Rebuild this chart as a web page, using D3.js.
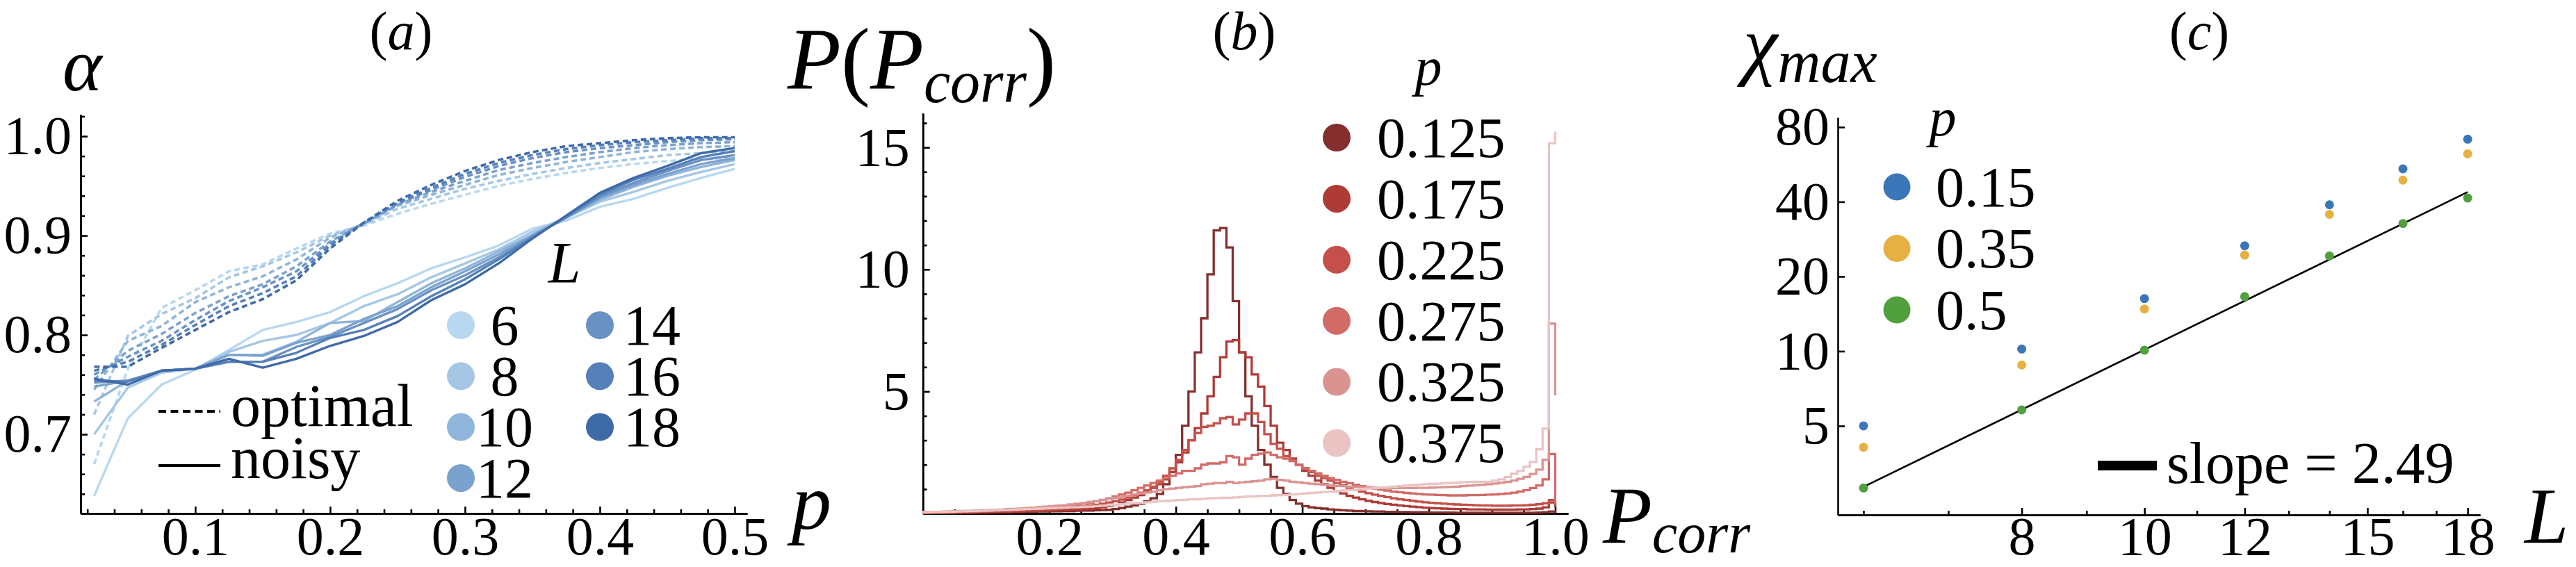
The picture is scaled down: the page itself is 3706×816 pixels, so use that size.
<!DOCTYPE html>
<html lang="en">
<head>
<meta charset="UTF-8">
<title>alpha, P(Pcorr), chi max</title>
<script src="https://cdn.jsdelivr.net/npm/d3@7/dist/d3.min.js"></script>
<style>
  body { margin: 0; background: #fff; }
  .axis .domain, .axis line { stroke: #000; stroke-width: 2.6; }
</style>
</head>
<body>
<script>
// ---------- panel (a): alpha vs p ----------
const pValues = [0.025, 0.05, 0.075, 0.1, 0.125, 0.15, 0.175, 0.2, 0.225, 0.25,
                 0.275, 0.3, 0.325, 0.35, 0.375, 0.4, 0.425, 0.45, 0.475, 0.5];
const sizesL = [6, 8, 10, 12, 14, 16, 18];
const colorsL = ["#b8d8f0", "#a5c7e5", "#90b5da", "#7ba2cf", "#6991c4", "#5580b9", "#3f6aa8"];

const optimal6  = [0.670, 0.766, 0.827, 0.845, 0.864, 0.871, 0.887, 0.902, 0.910, 0.922, 0.932, 0.941, 0.950, 0.957, 0.963, 0.968, 0.972, 0.975, 0.977, 0.978];
const optimal8  = [0.720, 0.799, 0.821, 0.837, 0.858, 0.869, 0.883, 0.900, 0.911, 0.927, 0.937, 0.947, 0.955, 0.962, 0.968, 0.973, 0.977, 0.981, 0.983, 0.985];
const optimal10 = [0.745, 0.794, 0.809, 0.833, 0.848, 0.859, 0.876, 0.898, 0.912, 0.930, 0.941, 0.951, 0.961, 0.968, 0.974, 0.979, 0.984, 0.987, 0.989, 0.990];
const optimal12 = [0.755, 0.784, 0.801, 0.822, 0.839, 0.851, 0.869, 0.894, 0.912, 0.931, 0.944, 0.955, 0.966, 0.973, 0.979, 0.984, 0.988, 0.991, 0.993, 0.994];
const optimal14 = [0.760, 0.778, 0.794, 0.815, 0.834, 0.848, 0.864, 0.892, 0.913, 0.932, 0.946, 0.959, 0.970, 0.978, 0.984, 0.988, 0.991, 0.994, 0.996, 0.997];
const optimal16 = [0.764, 0.773, 0.790, 0.810, 0.829, 0.842, 0.859, 0.890, 0.913, 0.933, 0.948, 0.962, 0.973, 0.981, 0.987, 0.991, 0.994, 0.996, 0.998, 0.998];
const optimal18 = [0.768, 0.768, 0.787, 0.805, 0.823, 0.836, 0.855, 0.887, 0.913, 0.935, 0.951, 0.965, 0.976, 0.984, 0.990, 0.993, 0.996, 0.998, 0.999, 0.999];

const noisy6  = [0.638, 0.716, 0.750, 0.765, 0.785, 0.805, 0.813, 0.823, 0.839, 0.852, 0.867, 0.878, 0.890, 0.907, 0.915, 0.929, 0.937, 0.948, 0.958, 0.967];
const noisy8  = [0.700, 0.747, 0.762, 0.766, 0.783, 0.794, 0.800, 0.812, 0.829, 0.841, 0.858, 0.872, 0.886, 0.904, 0.918, 0.934, 0.944, 0.955, 0.964, 0.972];
const noisy10 = [0.733, 0.754, 0.764, 0.766, 0.780, 0.780, 0.793, 0.812, 0.814, 0.833, 0.852, 0.867, 0.884, 0.901, 0.918, 0.936, 0.949, 0.960, 0.969, 0.976];
const noisy12 = [0.748, 0.754, 0.764, 0.766, 0.780, 0.779, 0.792, 0.800, 0.816, 0.829, 0.848, 0.864, 0.881, 0.900, 0.918, 0.938, 0.951, 0.962, 0.972, 0.978];
const noisy14 = [0.752, 0.754, 0.764, 0.766, 0.773, 0.773, 0.788, 0.798, 0.812, 0.826, 0.845, 0.860, 0.878, 0.899, 0.918, 0.939, 0.953, 0.965, 0.976, 0.981];
const noisy16 = [0.754, 0.753, 0.764, 0.766, 0.773, 0.773, 0.782, 0.797, 0.805, 0.819, 0.839, 0.856, 0.876, 0.898, 0.919, 0.941, 0.956, 0.967, 0.979, 0.985];
const noisy18 = [0.756, 0.750, 0.764, 0.766, 0.776, 0.767, 0.776, 0.789, 0.799, 0.813, 0.835, 0.851, 0.872, 0.897, 0.920, 0.943, 0.958, 0.970, 0.983, 0.988];

// ---------- panel (b): histograms of P_corr, bins of width 0.01 (last bin starts at 1.0) ----------
const binWidth = 0.01;
const pNoise = ["0.125", "0.175", "0.225", "0.275", "0.325", "0.375"];
const colorsP = ["#842f2d", "#ae3b36", "#c54f4a", "#d16b67", "#db9391", "#eac4c3"];

const hist0125 = [0.02,0.02,0.02,0.02,0.03,0.03,0.03,0.03,0.04,0.04, 0.04,0.05,0.05,0.05,0.06,0.06,0.07,0.07,0.08,0.08,
  0.09,0.09,0.1,0.1,0.11,0.12,0.12,0.13,0.14,0.15, 0.18,0.22,0.28,0.33,0.4,0.5,0.62,0.8,1.2,1.7,
  2.4,3.6,5.0,6.6,8.0,9.8,11.6,11.7,10.9,8.7, 6.6,4.8,3.6,2.6,2.0,1.5,1.05,0.8,0.55,0.4,
  0.3,0.25,0.22,0.2,0.17,0.15,0.13,0.12,0.1,0.1, 0.09,0.08,0.08,0.07,0.07,0.06,0.06,0.05,0.05,0.05,
  0.04,0.04,0.04,0.04,0.03,0.03,0.03,0.03,0.03,0.03, 0.03,0.03,0.03,0.03,0.03,0.03,0.03,0.04,0.05,0.08, 0.06];
const hist0175 = [0.02,0.02,0.03,0.03,0.03,0.04,0.04,0.04,0.05,0.05, 0.05,0.06,0.06,0.07,0.07,0.08,0.09,0.09,0.1,0.11,
  0.12,0.13,0.14,0.15,0.17,0.18,0.2,0.22,0.25,0.3, 0.35,0.45,0.55,0.65,0.75,0.9,1.05,1.2,1.4,1.7,
  2.1,2.5,3.0,3.5,4.1,4.8,5.6,6.4,7.05,7.1, 6.6,6.4,5.7,5.2,4.4,3.6,2.9,2.6,2.25,2.0,
  1.75,1.55,1.35,1.2,1.05,0.92,0.82,0.72,0.65,0.58, 0.52,0.47,0.43,0.39,0.36,0.33,0.3,0.28,0.26,0.24,
  0.22,0.21,0.2,0.19,0.18,0.18,0.17,0.17,0.17,0.16, 0.16,0.16,0.16,0.16,0.17,0.17,0.18,0.2,0.25,0.45, 0.3];
const hist0225 = [0.03,0.03,0.04,0.04,0.05,0.05,0.06,0.06,0.07,0.07, 0.08,0.09,0.1,0.1,0.11,0.12,0.13,0.14,0.15,0.17,
  0.18,0.2,0.22,0.24,0.26,0.29,0.32,0.36,0.4,0.45, 0.5,0.57,0.65,0.75,0.85,0.95,1.1,1.3,1.55,1.85,
  2.2,2.6,3.0,3.3,3.55,3.6,3.7,3.9,3.95,3.65, 3.85,4.1,4.1,3.75,3.25,2.85,2.65,2.35,2.2,2.0,
  1.85,1.7,1.55,1.45,1.35,1.25,1.15,1.05,0.97,0.9, 0.83,0.77,0.72,0.67,0.62,0.58,0.55,0.52,0.49,0.46,
  0.44,0.42,0.4,0.38,0.37,0.36,0.35,0.34,0.33,0.33, 0.32,0.32,0.32,0.33,0.33,0.34,0.36,0.38,0.42,0.55, 0.4];
const hist0275 = [0.05,0.05,0.06,0.06,0.07,0.07,0.08,0.09,0.1,0.1, 0.11,0.12,0.13,0.14,0.15,0.17,0.18,0.2,0.22,0.24,
  0.26,0.28,0.3,0.33,0.36,0.4,0.44,0.5,0.56,0.62, 0.7,0.78,0.85,0.95,1.05,1.15,1.25,1.35,1.45,1.55,
  1.65,1.75,1.75,1.85,2.0,2.05,2.05,2.1,2.35,2.3, 2.0,2.25,2.4,2.45,2.5,2.4,2.3,2.25,2.15,2.0,
  1.85,1.75,1.65,1.55,1.45,1.38,1.3,1.24,1.18,1.12, 1.07,1.02,0.98,0.94,0.9,0.87,0.84,0.82,0.8,0.78,
  0.77,0.76,0.75,0.74,0.74,0.74,0.75,0.75,0.76,0.77, 0.78,0.8,0.82,0.85,0.9,0.96,1.04,1.15,1.4,2.44, 0.45];
const hist0325 = [0.06,0.07,0.07,0.08,0.09,0.1,0.1,0.11,0.12,0.13, 0.14,0.15,0.16,0.18,0.19,0.2,0.22,0.24,0.26,0.28,
  0.3,0.32,0.34,0.37,0.4,0.43,0.47,0.5,0.55,0.6, 0.64,0.68,0.73,0.78,0.82,0.86,0.9,0.95,1.0,1.02,
  1.05,1.08,1.1,1.12,1.2,1.22,1.25,1.24,1.3,1.25, 1.28,1.3,1.32,1.35,1.4,1.42,1.38,1.35,1.3,1.28,
  1.25,1.22,1.2,1.18,1.15,1.13,1.12,1.1,1.1,1.08, 1.07,1.06,1.05,1.05,1.04,1.04,1.04,1.04,1.05,1.05,
  1.06,1.07,1.08,1.09,1.1,1.12,1.14,1.16,1.18,1.2, 1.23,1.26,1.3,1.35,1.42,1.5,1.62,1.8,2.2,7.78, 4.89];
const hist0375 = [0.05,0.06,0.06,0.07,0.07,0.08,0.09,0.1,0.1,0.11, 0.12,0.13,0.14,0.15,0.16,0.17,0.18,0.19,0.2,0.21,
  0.22,0.23,0.24,0.25,0.26,0.27,0.28,0.3,0.32,0.34, 0.36,0.38,0.4,0.42,0.44,0.46,0.48,0.5,0.52,0.53,
  0.55,0.56,0.58,0.58,0.6,0.62,0.63,0.64,0.64,0.66, 0.68,0.7,0.7,0.72,0.72,0.74,0.75,0.76,0.78,0.8,
  0.82,0.84,0.86,0.88,0.9,0.92,0.94,0.96,0.98,1.0, 1.02,1.04,1.06,1.08,1.1,1.12,1.14,1.16,1.18,1.2,
  1.21,1.22,1.24,1.25,1.26,1.28,1.29,1.3,1.3,1.3, 1.35,1.4,1.49,1.63,1.74,1.92,2.11,2.63,3.48,15.17, 15.6];

// ---------- panel (c): chi_max vs L ----------
const sizesC = [6, 8, 10, 12, 14, 16, 18];
const chiP015 = [5.0, 10.2, 16.3, 26.6, 38.9, 54.3, 71.5];
const chiP035 = [4.1, 8.8, 14.8, 24.4, 35.6, 48.9, 62.4];
const chiP05  = [2.81, 5.8, 10.1, 16.6, 24.2, 32.7, 41.4];
const pLabelsC = ["0.15", "0.35", "0.5"];
const colorsC = ["#3b77b8", "#e6b043", "#52a03d"];
const fitSlope = 2.49, fitAmp = 0.0328, fitRange = [6, 18];

// ====================================================================
// pick the first serif face that is really installed
function pickFont(cands) {
    const ctx = document.createElement("canvas").getContext("2d");
    const s = "mmmmmwwwiill0.125 optimal noisy";
    for (const f of cands) {
        for (const base of ["monospace", "sans-serif"]) {
            ctx.font = "72px " + base;
            const w0 = ctx.measureText(s).width;
            ctx.font = '72px "' + f + '", ' + base;
            const w1 = ctx.measureText(s).width;
            if (Math.abs(w1 - w0) > 0.5) return '"' + f + '", serif';
        }
    }
    return "serif";
}
const FONT = pickFont(["Liberation Serif", "Tinos", "Times New Roman", "Times", "Nimbus Roman",
                       "Nimbus Roman No9 L", "FreeSerif", "DejaVu Serif", "Noto Serif", "Georgia"]);

const svg = d3.select("body").append("svg")
    .attr("width", 3706).attr("height", 816)
    .attr("font-family", FONT)
    .style("font-family", FONT)
    .style("background", "#fff");

function styleAxis(g) {
    g.attr("class", "axis").attr("font-size", 78).attr("font-family", FONT);
    g.selectAll(".tick text").attr("fill", "#000").style("font-family", FONT);
}

// ---------------- panel (a) ----------------
const xA = d3.scaleLinear().domain([0.015, 0.5093]).range([116, 1075]);
const yA = d3.scaleLinear().domain([0.6203, 1.0217]).range([739, 165]);

const xAminor = d3.range(1, 26).map(i => i * 0.02).filter(v => Math.abs(v * 10 - Math.round(v * 10)) > 1e-6);
svg.append("g").attr("transform", "translate(0,739)")
    .call(d3.axisBottom(xA).tickValues(xAminor).tickSizeInner(-6).tickSizeOuter(0).tickFormat(""))
    .call(styleAxis);
svg.append("g").attr("transform", "translate(0,739)")
    .call(d3.axisBottom(xA).tickValues([0.1, 0.2, 0.3, 0.4, 0.5]).tickSizeInner(-10).tickSizeOuter(0)
        .tickPadding(9).tickFormat(d3.format(".1f")))
    .call(styleAxis);
const yAminor = d3.range(32, 52).map(i => i * 0.02).filter(v => Math.abs(v * 10 - Math.round(v * 10)) > 1e-6);
svg.append("g").attr("transform", "translate(116,0)")
    .call(d3.axisLeft(yA).tickValues(yAminor).tickSizeInner(-6).tickSizeOuter(0).tickFormat(""))
    .call(styleAxis);
svg.append("g").attr("transform", "translate(116,0)")
    .call(d3.axisLeft(yA).tickValues([0.7, 0.8, 0.9, 1.0]).tickSizeInner(-10).tickSizeOuter(0)
        .tickPadding(13).tickFormat(d3.format(".1f")))
    .call(styleAxis);

const optimalAll = [optimal6, optimal8, optimal10, optimal12, optimal14, optimal16, optimal18];
const noisyAll = [noisy6, noisy8, noisy10, noisy12, noisy14, noisy16, noisy18];
const lineA = d3.line().x((d, i) => xA(pValues[i])).y(d => yA(d));

const gA = svg.append("g");
optimalAll.forEach((vals, i) => {
    gA.append("path").datum(vals).attr("d", lineA)
        .attr("fill", "none").attr("stroke", colorsL[i]).attr("stroke-width", 3.6)
        .attr("stroke-dasharray", "8,5");
});
noisyAll.forEach((vals, i) => {
    gA.append("path").datum(vals).attr("d", lineA)
        .attr("fill", "none").attr("stroke", colorsL[i]).attr("stroke-width", 3.4)
        .attr("stroke-linejoin", "round");
});

// labels (a)
svg.append("text").attr("x", 577).attr("y", 70).attr("text-anchor", "middle").attr("font-size", 78)
    .html('(<tspan font-style="italic">a</tspan>)');
svg.append("text").attr("x", 90).attr("y", 130).attr("font-size", 108).attr("font-style", "italic").text("\u03b1");
svg.append("text").attr("x", 1139).attr("y", 761).attr("font-size", 114).attr("font-style", "italic").text("p");

// legend (a): line styles
const legA = svg.append("g");
legA.append("line").attr("x1", 228).attr("x2", 317).attr("y1", 592).attr("y2", 592)
    .attr("stroke", "#000").attr("stroke-width", 4).attr("stroke-dasharray", "11,6.5");
legA.append("line").attr("x1", 228).attr("x2", 317).attr("y1", 670).attr("y2", 670)
    .attr("stroke", "#000").attr("stroke-width", 4);
legA.append("text").attr("x", 332).attr("y", 613).attr("font-size", 86).text("optimal");
legA.append("text").attr("x", 332).attr("y", 688).attr("font-size", 86).text("noisy");

// legend (a): sizes L
legA.append("text").attr("x", 812).attr("y", 407).attr("text-anchor", "middle")
    .attr("font-size", 84).attr("font-style", "italic").text("L");
sizesL.forEach((L, i) => {
    const col = i < 4 ? 0 : 1, row = i < 4 ? i : i - 4;
    const cx = col === 0 ? 663 : 863, cy = 468 + row * 73.3;
    legA.append("circle").attr("cx", cx).attr("cy", cy).attr("r", 20).attr("fill", colorsL[i]);
    legA.append("text").attr("x", col === 0 ? 726 : 938).attr("y", cy).attr("dy", "0.34em")
        .attr("text-anchor", "middle").attr("font-size", 82).text(L);
});

// ---------------- panel (b) ----------------
const xB = d3.scaleLinear().domain([0, 1.0204]).range([1327.7, 2256]);
const yB = d3.scaleLinear().domain([0, 16.4]).range([739, 163]);

const xBminor = d3.range(1, 21).map(i => i * 0.05).filter(v => Math.abs(v * 5 - Math.round(v * 5)) > 1e-6);
svg.append("g").attr("transform", "translate(0,739)")
    .call(d3.axisBottom(xB).tickValues(xBminor).tickSizeInner(-6).tickSizeOuter(0).tickFormat(""))
    .call(styleAxis);
svg.append("g").attr("transform", "translate(0,739)")
    .call(d3.axisBottom(xB).tickValues([0.2, 0.4, 0.6, 0.8, 1.0]).tickSizeInner(-10).tickSizeOuter(0)
        .tickPadding(9).tickFormat(d3.format(".1f")))
    .call(styleAxis);
const yBminor = d3.range(1, 17).filter(v => v % 5 !== 0);
svg.append("g").attr("transform", "translate(1327.7,0)")
    .call(d3.axisLeft(yB).tickValues(yBminor).tickSizeInner(-6).tickSizeOuter(0).tickFormat(""))
    .call(styleAxis);
svg.append("g").attr("transform", "translate(1327.7,0)")
    .call(d3.axisLeft(yB).tickValues([5, 10, 15]).tickSizeInner(-10).tickSizeOuter(0)
        .tickPadding(19).tickFormat(d3.format("d")))
    .call(styleAxis);

svg.append("clipPath").attr("id", "clipB").append("rect")
    .attr("x", 1320).attr("y", 150).attr("width", xB(1.0) + 1.7 - 1320).attr("height", 592);

const histAll = [hist0125, hist0175, hist0225, hist0275, hist0325, hist0375];
function stepPath(h) {
    let d = "M" + xB(0) + "," + yB(0);
    h.forEach((v, k) => {
        d += "V" + yB(v) + "H" + xB((k + 1) * binWidth);
    });
    d += "V" + yB(0);
    return d;
}
const gB = svg.append("g").attr("clip-path", "url(#clipB)");
histAll.forEach((h, i) => {
    gB.append("path").attr("d", stepPath(h)).attr("fill", "none")
        .attr("stroke", colorsP[i]).attr("stroke-width", 3.3).attr("stroke-linejoin", "miter");
});

// labels (b)
svg.append("text").attr("x", 1790).attr("y", 70).attr("text-anchor", "middle").attr("font-size", 78)
    .html('(<tspan font-style="italic">b</tspan>)');
svg.append("text").attr("x", 1133).attr("y", 128).attr("font-size", 126)
    .html('<tspan font-style="italic">P</tspan>(<tspan font-style="italic">P</tspan>' +
          '<tspan font-style="italic" font-size="86" dy="19">corr</tspan><tspan dy="-19">)</tspan>');
svg.append("text").attr("x", 2306).attr("y", 781).attr("font-size", 116)
    .html('<tspan font-style="italic">P</tspan><tspan font-style="italic" font-size="82" dy="14">corr</tspan>');

const legB = svg.append("g");
legB.append("text").attr("x", 2055).attr("y", 122).attr("text-anchor", "middle")
    .attr("font-size", 78).attr("font-style", "italic").text("p");
pNoise.forEach((lab, i) => {
    const cy = 198 + i * 87.9;
    legB.append("circle").attr("cx", 1923).attr("cy", cy).attr("r", 20).attr("fill", colorsP[i]);
    legB.append("text").attr("x", 1981).attr("y", cy).attr("dy", "0.34em").attr("font-size", 82).text(lab);
});

// ---------------- panel (c) ----------------
const xC = d3.scaleLog().domain([5.726, 18.41]).range([2644, 3568]);
const yC = d3.scaleLog().domain([2.19, 87.5]).range([741, 169]);

const xCminor = d3.range(6, 19).filter(v => [8, 10, 12, 15, 18].indexOf(v) < 0);
svg.append("g").attr("transform", "translate(0,741)")
    .call(d3.axisBottom(xC).tickValues(xCminor).tickSizeInner(-6).tickSizeOuter(0).tickFormat(""))
    .call(styleAxis);
svg.append("g").attr("transform", "translate(0,741)")
    .call(d3.axisBottom(xC).tickValues([8, 10, 12, 15, 18]).tickSizeInner(-10).tickSizeOuter(0)
        .tickPadding(7).tickFormat(d3.format("d")))
    .call(styleAxis);
svg.append("g").attr("transform", "translate(2644,0)")
    .call(d3.axisLeft(yC).tickValues([5, 10, 20, 40, 80]).tickSizeInner(-10).tickSizeOuter(0)
        .tickPadding(12).tickFormat(d3.format("d")))
    .call(styleAxis);

const gC = svg.append("g");
gC.append("path")
    .datum(fitRange.map(L => [L, fitAmp * Math.pow(L, fitSlope)]))
    .attr("d", d3.line().x(d => xC(d[0])).y(d => yC(d[1])))
    .attr("stroke", "#000").attr("stroke-width", 2.6).attr("fill", "none");
[chiP015, chiP035, chiP05].forEach((vals, j) => {
    gC.selectAll(null).data(vals).enter().append("circle")
        .attr("cx", (d, i) => xC(sizesC[i])).attr("cy", d => yC(d)).attr("r", 6.5)
        .attr("fill", colorsC[j]);
});

// labels (c)
svg.append("text").attr("x", 3164).attr("y", 70).attr("text-anchor", "middle").attr("font-size", 78)
    .html('(<tspan font-style="italic">c</tspan>)');
svg.append("text").attr("x", 2508).attr("y", 94).attr("font-size", 112)
    .html('<tspan font-style="italic">\u03c7</tspan><tspan font-style="italic" font-size="86" dy="17">max</tspan>');
svg.append("text").attr("x", 3632).attr("y", 781).attr("font-size", 114).attr("font-style", "italic").text("L");

const legC = svg.append("g");
legC.append("text").attr("x", 2795).attr("y", 195).attr("text-anchor", "middle")
    .attr("font-size", 78).attr("font-style", "italic").text("p");
pLabelsC.forEach((lab, i) => {
    const cy = 269 + i * 88.5;
    legC.append("circle").attr("cx", 2729).attr("cy", cy).attr("r", 19.5).attr("fill", colorsC[i]);
    legC.append("text").attr("x", 2785).attr("y", cy).attr("dy", "0.34em").attr("font-size", 82).text(lab);
});
legC.append("line").attr("x1", 3018).attr("x2", 3103).attr("y1", 670).attr("y2", 670)
    .attr("stroke", "#000").attr("stroke-width", 14);
legC.append("text").attr("x", 3117).attr("y", 695).attr("font-size", 84).text("slope = 2.49");

// keep every text inside the picture: nudge any label whose box crosses the top or bottom edge
svg.selectAll("text").each(function () {
    const r = this.getBoundingClientRect();
    let shift = 0;
    if (r.height > 0 && r.bottom > 815) shift = 815 - r.bottom;
    if (r.height > 0 && r.top < 1) shift = 1 - r.top;
    if (shift !== 0) {
        const t = d3.select(this);
        t.attr("y", (+t.attr("y") || 0) + shift);
    }
});
</script>
</body>
</html>
